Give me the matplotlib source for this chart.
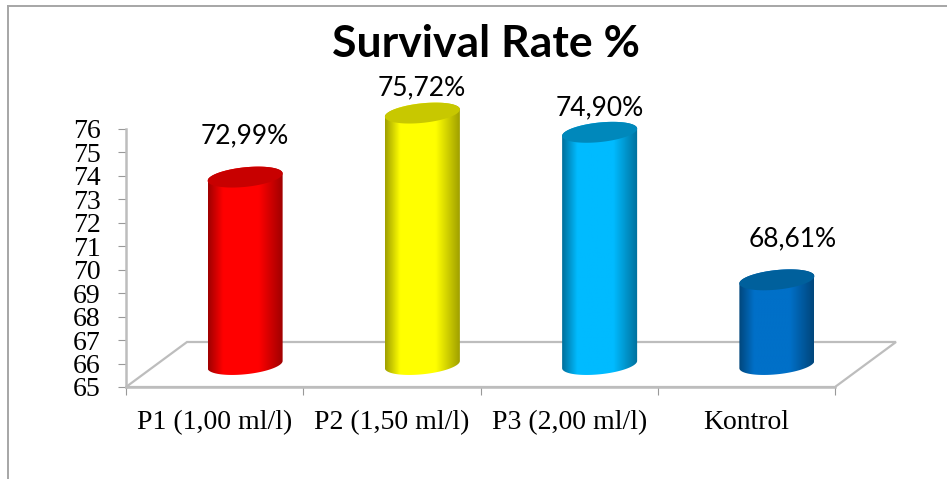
import numpy as np
import matplotlib
matplotlib.use("Agg")
import matplotlib.pyplot as plt
from matplotlib.colors import LinearSegmentedColormap
from matplotlib.lines import Line2D
from matplotlib.patches import PathPatch, Polygon
from matplotlib.path import Path

categories = ["P1 (1,00 ml/l)", "P2 (1,50 ml/l)", "P3 (2,00 ml/l)", "Kontrol"]
values = [72.99, 75.72, 74.90, 68.61]
value_labels = ["72,99%", "75,72%", "74,90%", "68,61%"]
y_ticks = list(range(65, 77))
title = "Survival Rate %"

edge_colors = ["#a00000", "#a0a000", "#00709c", "#00467c"]
mid_colors = ["#ff0000", "#ffff00", "#00bbff", "#0070c8"]
cap_colors = ["#c80000", "#c8c800", "#0088bb", "#00609c"]
label_shift_px = [(0, 41), (-1, 25), (0, 24), (16, 41)]

W, H = 947, 479
fig = plt.figure(figsize=(W / 100, H / 100), dpi=100, facecolor="white")
L, R, T, B = 126, 835, 129, 387
ax = fig.add_axes([L / W, 1 - B / H, (R - L) / W, (B - T) / H])
ax.set_xlim(-0.5, 3.5)
ax.set_ylim(65, 76)
ax.patch.set_alpha(0)

px_x = 4 / (R - L)
px_y = 11 / (B - T)
DEPTH_X, DEPTH_Y = 61, 45
GRAY = "#bdbdbd"

# floor of the 3D plot
x0, x1 = -0.5, 3.5
floor = Polygon(
    [(x0, 65), (x1, 65), (x1 + DEPTH_X * px_x, 65 + DEPTH_Y * px_y), (x0 + DEPTH_X * px_x, 65 + DEPTH_Y * px_y)],
    closed=True, facecolor="white", edgecolor=GRAY, lw=1.6, clip_on=False, zorder=1,
)
ax.add_patch(floor)

# axes
for side in ("top", "right"):
    ax.spines[side].set_visible(False)
for side in ("left", "bottom"):
    ax.spines[side].set_color(GRAY)
    ax.spines[side].set_linewidth(1.8)
    ax.spines[side].set_zorder(2)
ax.set_yticks(y_ticks)
ax.set_yticklabels([str(v) for v in y_ticks], family="Liberation Serif", fontsize=20, color="black")
ax.tick_params(axis="y", length=5.8, width=0.8, color="#999999", pad=12.5)
ax.set_xticks(np.arange(-0.5, 4, 1))
ax.set_xticklabels([])
ax.tick_params(axis="x", which="major", length=5.5, width=0.8, color="#999999")
ax.set_xticks(range(len(categories)), minor=True)
ax.set_xticklabels(categories, minor=True, family="Liberation Serif", fontsize=20, color="black")
ax.tick_params(axis="x", which="minor", length=0, pad=16.5)

# cylinders
BAR_W = 75
ELL_H = 19.5
TILT = np.radians(6)


def ring(cx, y, t):
    ex = BAR_W / 2 * np.cos(t)
    ey = ELL_H / 2 * np.sin(t)
    xp = ex * np.cos(TILT) - ey * np.sin(TILT)
    yp = ex * np.sin(TILT) + ey * np.cos(TILT)
    return np.column_stack([cx + xp / np.cos(TILT) * px_x, y + yp * px_y])


for i, v in enumerate(values):
    cx = i + (DEPTH_X / 2) * px_x
    base = 65 + (DEPTH_Y / 2) * px_y
    top = v + (DEPTH_Y / 2) * px_y
    lower = ring(cx, base, np.linspace(np.pi, 2 * np.pi, 60))
    upper = ring(cx, top, np.linspace(0, np.pi, 60))
    body = np.vstack([lower, upper, lower[:1]])
    clip = PathPatch(Path(body), transform=ax.transData, facecolor="none", edgecolor="none")
    ax.add_patch(clip)
    cmap = LinearSegmentedColormap.from_list(
        "c", [(0, edge_colors[i]), (0.2, mid_colors[i]), (0.68, mid_colors[i]), (1, edge_colors[i])]
    )
    grad = np.linspace(0, 1, 200)[None, :]
    hw = BAR_W / 2 * px_x
    im = ax.imshow(
        grad, cmap=cmap, aspect="auto", interpolation="bilinear", zorder=3,
        extent=(cx - hw, cx + hw, body[:, 1].min() - 0.1, body[:, 1].max() + 0.1),
    )
    im.set_clip_path(clip)
    im.set_clip_box(fig.bbox)
    cap = ring(cx, top, np.linspace(0, 2 * np.pi, 120))
    ax.add_patch(Polygon(cap, closed=True, facecolor=cap_colors[i], edgecolor="none", clip_on=False, zorder=4))
    dx, dy = label_shift_px[i]
    ax.text(cx + dx * px_x, top + dy * px_y, value_labels[i], family="Lato", fontsize=19,
            ha="center", va="center", color="black", clip_on=False, zorder=5)

ax.set_xlim(-0.5, 3.5)
ax.set_ylim(65, 76)

fig.text(486 / W, 1 - 44 / H, title, family="Lato", fontweight="bold", fontsize=32,
         ha="center", va="center", color="black")

# chart frame
frame = "#a6a6a6"
fig.add_artist(Line2D([8 / W, 8 / W], [0, 1 - 6 / H], color=frame, lw=1.4))
fig.add_artist(Line2D([8 / W, 1], [1 - 6 / H, 1 - 6 / H], color=frame, lw=1.4))

fig.savefig("out.png", dpi=100)
